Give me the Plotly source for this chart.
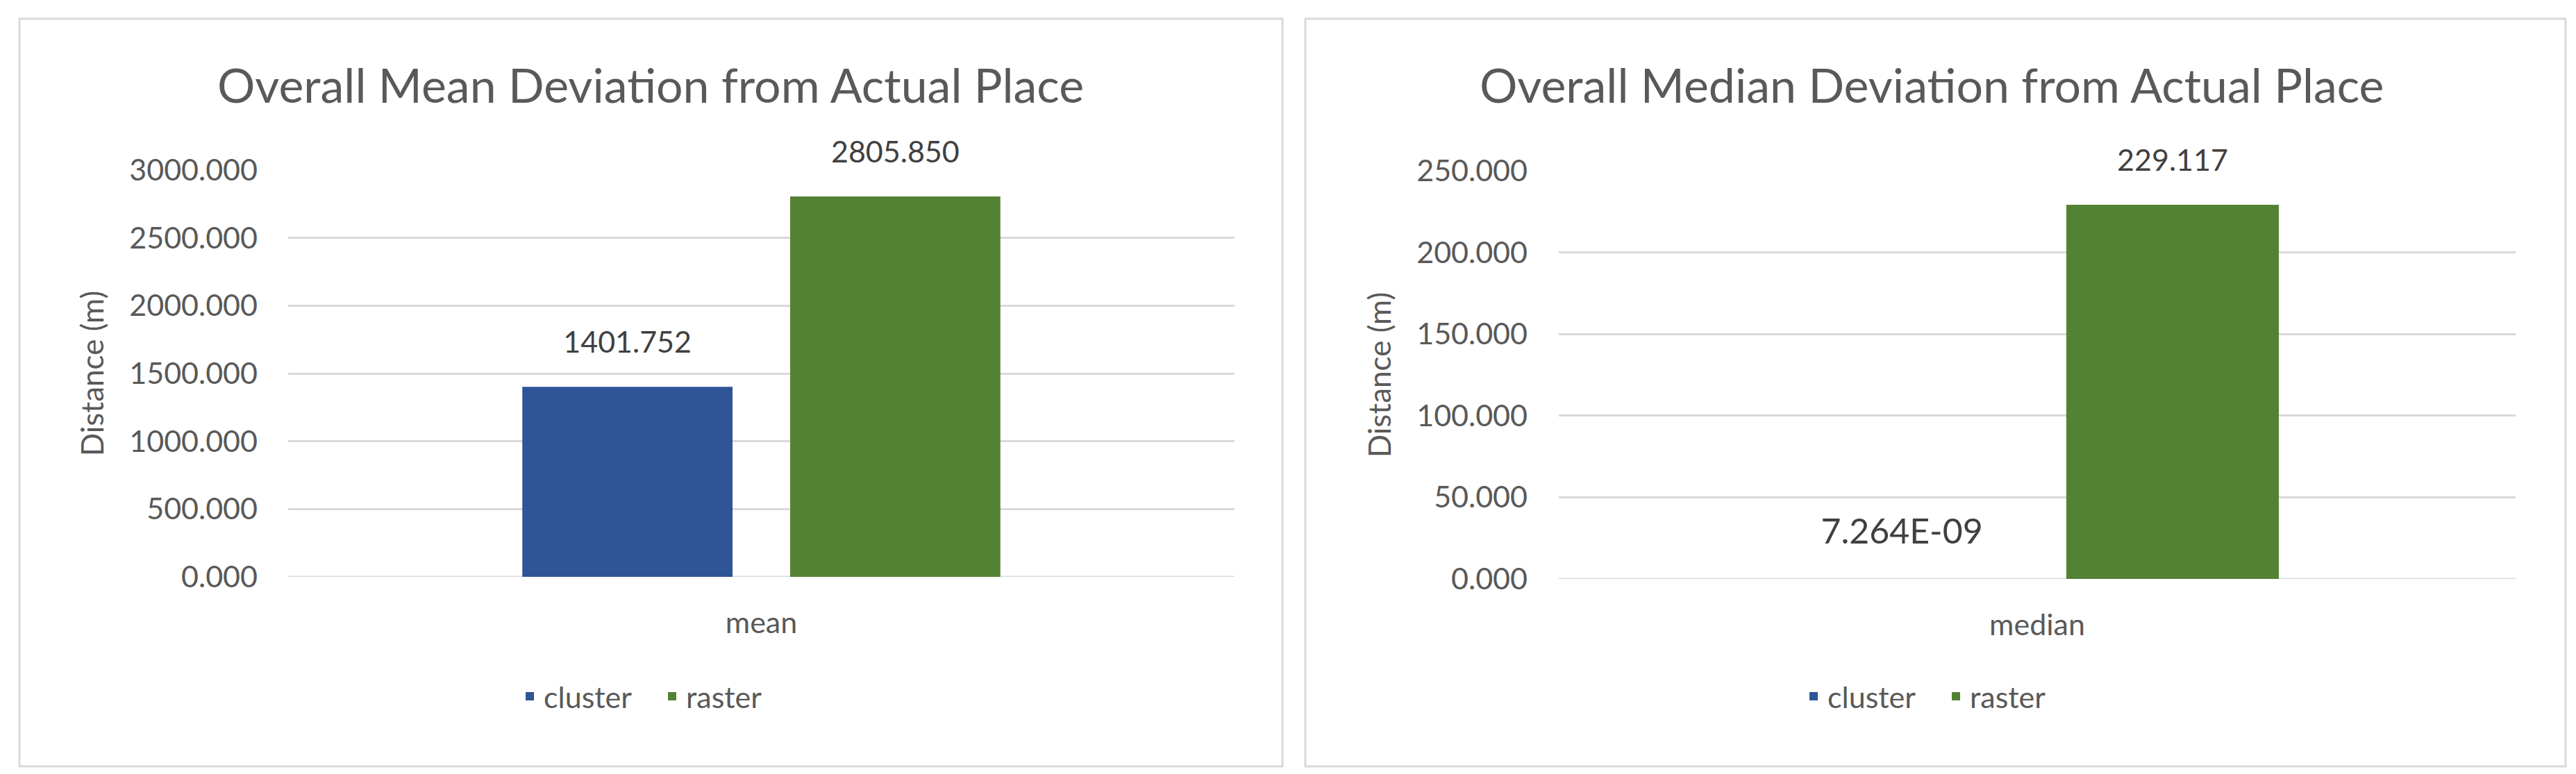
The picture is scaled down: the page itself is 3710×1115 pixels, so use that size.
import plotly.graph_objects as go

# data
mean_categories = ["mean"]
median_categories = ["median"]
series_names = ["cluster", "raster"]
mean_values = {"cluster": [1401.752], "raster": [2805.850]}
median_values = {"cluster": [7.264e-09], "raster": [229.117]}
mean_ticks = [0, 500, 1000, 1500, 2000, 2500, 3000]
median_ticks = [0, 50, 100, 150, 200, 250]

W, H = 3710, 1115
FONT = "Lato"
GREY_TXT = "#595959"
LABEL_TXT = "#404040"
GRID = "#d9d9d9"
COLORS = {"cluster": "#2f5597", "raster": "#548235"}


def px_x(v):
    return v / W


def px_y(v):
    return 1 - v / H


def fmt(v):
    # Excel shows tiny values in scientific notation
    return f"{v:.3f}" if abs(v) >= 0.001 else f"{v:.3E}"


fig = go.Figure()

panels = [
    dict(cats=mean_categories, vals=mean_values, xa="x", ya="y", legend="legend", lsize=43),
    dict(cats=median_categories, vals=median_values, xa="x2", ya="y2", legend="legend2", lsize=50),
]

for p in panels:
    for name in series_names:
        fig.add_trace(go.Bar(
            x=p["cats"], y=p["vals"][name], name=name,
            marker=dict(color=COLORS[name], line=dict(width=0)),
            xaxis=p["xa"], yaxis=p["ya"], legend=p["legend"],
            hoverinfo="skip",
        ))
    # value labels sit above the bars, pushed up by an invisible marker
    for name in series_names:
        fig.add_trace(go.Scatter(
            x=p["cats"], y=p["vals"][name], mode="markers+text",
            text=[fmt(v) for v in p["vals"][name]],
            textposition="top center",
            textfont=dict(family=FONT, size=43 if name == "raster" else p["lsize"], color=LABEL_TXT),
            marker=dict(size=60, opacity=0),
            xaxis=p["xa"], yaxis=p["ya"], showlegend=False,
            cliponaxis=False, hoverinfo="skip",
        ))

axis_common = dict(
    showline=False, zeroline=False, fixedrange=True, automargin=False,
    tickfont=dict(family=FONT, size=43, color=GREY_TXT),
)

legend_common = dict(
    orientation="h", xanchor="center", yanchor="middle",
    font=dict(family=FONT, size=43, color=GREY_TXT), itemwidth=30,
    entrywidth=160, bgcolor="rgba(0,0,0,0)",
)

fig.update_layout(
    width=W, height=H,
    margin=dict(l=0, r=0, t=0, b=0),
    paper_bgcolor="white", plot_bgcolor="white",
    template="none",
    barmode="group", bargap=0.434, bargroupgap=0.215,
    scattermode="group", scattergap=0.434,
    font=dict(family=FONT, color=GREY_TXT),
    xaxis=dict(domain=[px_x(407), px_x(1770)], anchor="y", showgrid=False,
               ticks="outside", ticklen=0, ticklabelstandoff=28, **axis_common),
    yaxis=dict(domain=[px_y(823), px_y(237)], anchor="x", range=[0, 3000],
               tickvals=mean_ticks, tickformat=".3f", showgrid=True,
               gridcolor=GRID, gridwidth=3, ticks="", ticklabelstandoff=43,
               title=dict(text="Distance (m)", standoff=22,
                          font=dict(family=FONT, size=44, color=GREY_TXT)),
               **axis_common),
    xaxis2=dict(domain=[px_x(2237), px_x(3615)], anchor="y2", showgrid=False,
                ticks="outside", ticklen=0, ticklabelstandoff=28, **axis_common),
    yaxis2=dict(domain=[px_y(826), px_y(238)], anchor="x2", range=[0, 250],
                tickvals=median_ticks, tickformat=".3f", showgrid=True,
                gridcolor=GRID, gridwidth=3, ticks="", ticklabelstandoff=44,
                title=dict(text="Distance (m)", standoff=22,
                           font=dict(family=FONT, size=44, color=GREY_TXT)),
                **axis_common),
    legend=dict(x=px_x(940), y=px_y(995), **legend_common),
    legend2=dict(x=px_x(2789), y=px_y(995), **legend_common),
    showlegend=True,
)

# zero line drawn as a grey axis line like Excel's category axis
for ya, xa in [("y", "x"), ("y2", "x2")]:
    fig.add_shape(type="line", xref=f"{xa} domain", yref=ya, x0=0, x1=1, y0=0, y1=0,
                  line=dict(color=GRID, width=3), layer="below")

# chart borders
for x0, x1 in [(20, 1839), (1872, 3687)]:
    fig.add_shape(type="rect", xref="paper", yref="paper",
                  x0=px_x(x0), x1=px_x(x1), y0=px_y(1096), y1=px_y(19),
                  line=dict(color=GRID, width=3), fillcolor="rgba(0,0,0,0)")

titles = [("Overall Mean Deviation from Actual Place", 929),
          ("Overall Median Deviation from Actual Place", 2774)]
for text, cx in titles:
    fig.add_annotation(text=text, xref="paper", yref="paper", x=px_x(cx), y=px_y(114),
                       xanchor="center", yanchor="middle", showarrow=False,
                       font=dict(family=FONT, size=68, color=GREY_TXT))

fig.write_html("out.html")
